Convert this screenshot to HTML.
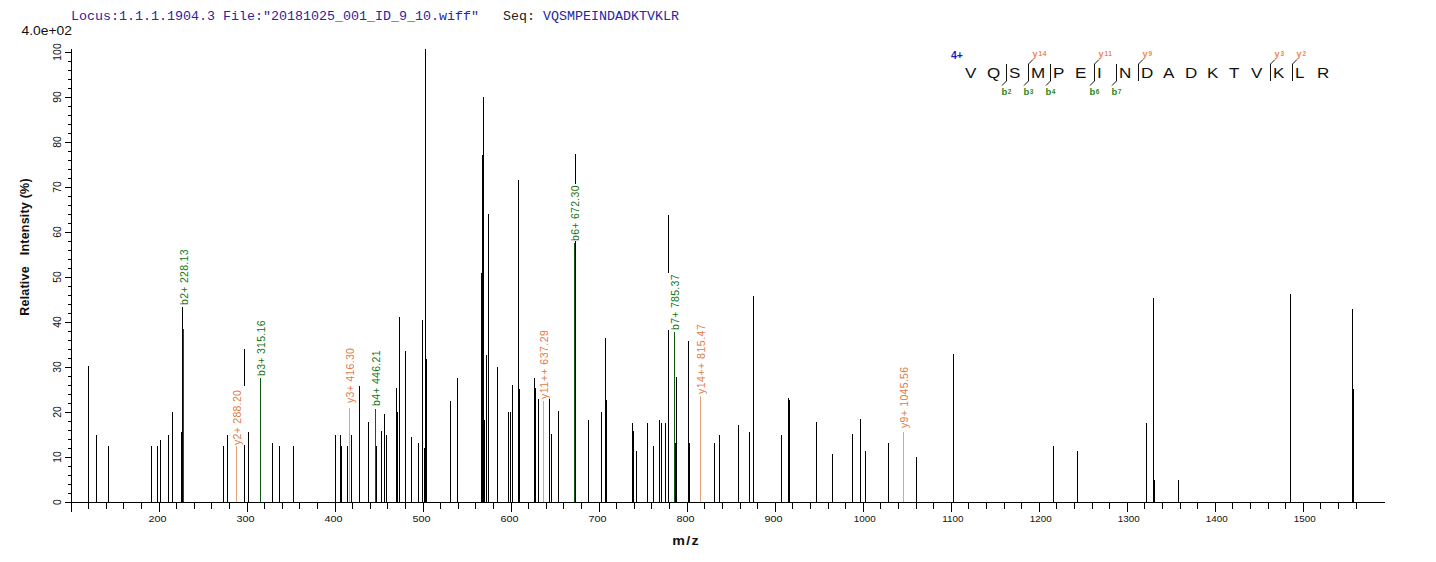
<!DOCTYPE html>
<html><head><meta charset="utf-8"><style>
html,body{margin:0;padding:0;background:#fff;width:1436px;height:562px;overflow:hidden}
svg{display:block}
text{font-family:"Liberation Sans",sans-serif}
.title{font-family:"Liberation Mono",monospace;font-size:13.33px;fill:#2626a4}
.tk{font-size:10px;fill:#111}
.lab{font-size:10.5px;letter-spacing:0.3px}
.aa{font-size:15.5px;fill:#111}
.ion{font-size:9px;font-weight:bold}
.sup{font-size:6.5px}
.axl{font-weight:bold;fill:#111}
</style></head><body>
<svg width="1436" height="562" viewBox="0 0 1436 562" shape-rendering="crispEdges">
<rect x="0" y="0" width="1436" height="562" fill="#fff"/>
<text x="71" y="20" class="title" xml:space="preserve">Locus:1.1.1.1904.3 File:"20181025_001_ID_9_10.wiff"   <tspan fill="#222">Seq:</tspan> VQSMPEINDADKTVKLR</text>
<text transform="translate(21.5,34.7) scale(1.1,1)" x="0" y="0" style="font-size:12.6px;fill:#111">4.0e+02</text>
<g transform="translate(28.5,247) rotate(-90)"><text x="0" y="0" class="axl" text-anchor="middle" style="font-size:12.5px;letter-spacing:0.2px" xml:space="preserve">Relative   Intensity (%)</text></g>
<text transform="translate(686,545) scale(1.08,1)" x="0" y="0" class="axl" text-anchor="middle" style="font-size:13.2px;letter-spacing:1.2px">m/z</text>
<text x="951" y="58.8" style="font-size:10.5px;font-weight:bold;fill:#1a1acc">4+</text>
<g shape-rendering="geometricPrecision">
<rect x="88" y="366" width="1" height="136" fill="#000"/>
<rect x="96" y="435" width="1" height="67" fill="#000"/>
<rect x="108" y="446" width="1" height="56" fill="#000"/>
<rect x="151" y="446" width="1" height="56" fill="#000"/>
<rect x="157" y="446" width="1" height="56" fill="#000"/>
<rect x="160" y="440" width="1" height="62" fill="#000"/>
<rect x="168" y="435" width="1" height="67" fill="#000"/>
<rect x="172" y="412" width="1" height="90" fill="#000"/>
<rect x="181" y="432" width="1" height="70" fill="#000"/>
<rect x="182" y="307" width="1" height="195" fill="#000"/>
<rect x="183" y="329" width="1" height="173" fill="#125a12"/>
<rect x="223" y="446" width="1" height="56" fill="#000"/>
<rect x="227" y="435" width="1" height="67" fill="#000"/>
<rect x="236" y="446" width="1" height="56" fill="#e9a07a"/>
<rect x="244" y="349" width="1" height="153" fill="#000"/>
<rect x="248" y="432" width="1" height="70" fill="#000"/>
<rect x="272" y="443" width="1" height="59" fill="#000"/>
<rect x="279" y="446" width="1" height="56" fill="#000"/>
<rect x="293" y="446" width="1" height="56" fill="#000"/>
<rect x="260" y="378" width="1" height="124" fill="#125a12"/>
<rect x="335" y="435" width="1" height="67" fill="#000"/>
<rect x="340" y="435" width="1" height="67" fill="#000"/>
<rect x="341" y="446" width="1" height="56" fill="#000"/>
<rect x="347" y="446" width="1" height="56" fill="#000"/>
<rect x="349" y="408" width="1" height="94" fill="#e9a07a"/>
<rect x="351" y="435" width="1" height="67" fill="#000"/>
<rect x="359" y="386" width="1" height="116" fill="#000"/>
<rect x="368" y="422" width="1" height="80" fill="#000"/>
<rect x="375" y="409" width="1" height="93" fill="#125a12"/>
<rect x="376" y="446" width="1" height="56" fill="#000"/>
<rect x="381" y="431" width="1" height="71" fill="#000"/>
<rect x="384" y="414" width="1" height="88" fill="#000"/>
<rect x="386" y="435" width="1" height="67" fill="#000"/>
<rect x="396" y="388" width="1" height="114" fill="#000"/>
<rect x="397" y="412" width="1" height="90" fill="#000"/>
<rect x="399" y="317" width="1" height="185" fill="#000"/>
<rect x="405" y="351" width="1" height="151" fill="#000"/>
<rect x="411" y="437" width="1" height="65" fill="#000"/>
<rect x="418" y="443" width="1" height="59" fill="#000"/>
<rect x="422" y="320" width="1" height="182" fill="#000"/>
<rect x="424" y="448" width="1" height="54" fill="#000"/>
<rect x="425" y="49" width="1" height="453" fill="#000"/>
<rect x="426" y="359" width="1" height="143" fill="#000"/>
<rect x="450" y="401" width="1" height="101" fill="#000"/>
<rect x="457" y="378" width="1" height="124" fill="#000"/>
<rect x="481" y="273" width="1" height="229" fill="#000"/>
<rect x="482" y="155" width="1" height="347" fill="#000"/>
<rect x="483" y="97" width="1" height="405" fill="#000"/>
<rect x="484" y="420" width="1" height="82" fill="#000"/>
<rect x="486" y="355" width="1" height="147" fill="#000"/>
<rect x="488" y="214" width="1" height="288" fill="#000"/>
<rect x="497" y="367" width="1" height="135" fill="#000"/>
<rect x="508" y="412" width="1" height="90" fill="#000"/>
<rect x="510" y="412" width="1" height="90" fill="#000"/>
<rect x="512" y="385" width="1" height="117" fill="#000"/>
<rect x="518" y="180" width="1" height="322" fill="#000"/>
<rect x="519" y="389" width="1" height="113" fill="#000"/>
<rect x="534" y="378" width="1" height="124" fill="#000"/>
<rect x="535" y="388" width="1" height="114" fill="#000"/>
<rect x="538" y="399" width="1" height="103" fill="#000"/>
<rect x="543" y="401" width="1" height="101" fill="#e9a07a"/>
<rect x="549" y="399" width="1" height="103" fill="#000"/>
<rect x="551" y="434" width="1" height="68" fill="#000"/>
<rect x="558" y="411" width="1" height="91" fill="#000"/>
<rect x="575" y="154" width="1" height="348" fill="#000"/>
<rect x="574" y="243" width="1" height="259" fill="#125a12"/>
<rect x="588" y="420" width="1" height="82" fill="#000"/>
<rect x="601" y="412" width="1" height="90" fill="#000"/>
<rect x="605" y="338" width="1" height="164" fill="#000"/>
<rect x="606" y="400" width="1" height="102" fill="#000"/>
<rect x="632" y="423" width="1" height="79" fill="#000"/>
<rect x="633" y="431" width="1" height="71" fill="#000"/>
<rect x="636" y="451" width="1" height="51" fill="#000"/>
<rect x="647" y="423" width="1" height="79" fill="#000"/>
<rect x="653" y="446" width="1" height="56" fill="#000"/>
<rect x="659" y="420" width="1" height="82" fill="#000"/>
<rect x="661" y="423" width="1" height="79" fill="#000"/>
<rect x="665" y="423" width="1" height="79" fill="#000"/>
<rect x="668" y="215" width="1" height="287" fill="#000"/>
<rect x="674" y="332" width="1" height="170" fill="#125a12"/>
<rect x="675" y="443" width="1" height="59" fill="#000"/>
<rect x="676" y="377" width="1" height="125" fill="#000"/>
<rect x="688" y="341" width="1" height="161" fill="#000"/>
<rect x="689" y="443" width="1" height="59" fill="#000"/>
<rect x="700" y="396" width="1" height="106" fill="#e9a07a"/>
<rect x="714" y="443" width="1" height="59" fill="#000"/>
<rect x="719" y="435" width="1" height="67" fill="#000"/>
<rect x="738" y="425" width="1" height="77" fill="#000"/>
<rect x="749" y="432" width="1" height="70" fill="#000"/>
<rect x="753" y="296" width="1" height="206" fill="#000"/>
<rect x="781" y="435" width="1" height="67" fill="#000"/>
<rect x="788" y="398" width="1" height="104" fill="#000"/>
<rect x="789" y="400" width="1" height="102" fill="#000"/>
<rect x="816" y="422" width="1" height="80" fill="#000"/>
<rect x="832" y="454" width="1" height="48" fill="#000"/>
<rect x="852" y="434" width="1" height="68" fill="#000"/>
<rect x="860" y="419" width="1" height="83" fill="#000"/>
<rect x="865" y="451" width="1" height="51" fill="#000"/>
<rect x="888" y="443" width="1" height="59" fill="#000"/>
<rect x="903" y="432" width="1" height="70" fill="#e9a07a"/>
<rect x="916" y="457" width="1" height="45" fill="#000"/>
<rect x="953" y="354" width="1" height="148" fill="#000"/>
<rect x="1053" y="446" width="1" height="56" fill="#000"/>
<rect x="1077" y="451" width="1" height="51" fill="#000"/>
<rect x="1146" y="423" width="1" height="79" fill="#000"/>
<rect x="1153" y="298" width="1" height="204" fill="#000"/>
<rect x="1154" y="480" width="1" height="22" fill="#000"/>
<rect x="1178" y="480" width="1" height="22" fill="#000"/>
<rect x="1290" y="294" width="1" height="208" fill="#000"/>
<rect x="1352" y="309" width="1" height="193" fill="#000"/>
<rect x="1353" y="389" width="1" height="113" fill="#000"/>
<rect x="177" y="248" width="15" height="57" fill="#fff"/>
<g transform="translate(188,305) rotate(-90)"><text x="0" y="0" class="lab" fill="#137313">b2+ 228.13</text></g>
<rect x="230" y="386" width="15" height="59" fill="#fff"/>
<g transform="translate(241,445) rotate(-90)"><text x="0" y="0" class="lab" fill="#e27a44">y2+ 288.20</text></g>
<rect x="254" y="319" width="15" height="57" fill="#fff"/>
<g transform="translate(265,376) rotate(-90)"><text x="0" y="0" class="lab" fill="#137313">b3+ 315.16</text></g>
<rect x="343" y="346" width="15" height="57" fill="#fff"/>
<g transform="translate(354,403) rotate(-90)"><text x="0" y="0" class="lab" fill="#e27a44">y3+ 416.30</text></g>
<rect x="369" y="350" width="15" height="56" fill="#fff"/>
<g transform="translate(380,406) rotate(-90)"><text x="0" y="0" class="lab" fill="#137313">b4+ 446.21</text></g>
<rect x="537" y="328" width="15" height="71" fill="#fff"/>
<g transform="translate(548,399) rotate(-90)"><text x="0" y="0" class="lab" fill="#e27a44" style="letter-spacing:0.5px">y11++ 637.29</text></g>
<rect x="568" y="184" width="15" height="57" fill="#fff"/>
<g transform="translate(579,241) rotate(-90)"><text x="0" y="0" class="lab" fill="#137313">b6+ 672.30</text></g>
<rect x="668" y="273" width="15" height="57" fill="#fff"/>
<g transform="translate(679,330) rotate(-90)"><text x="0" y="0" class="lab" fill="#137313">b7+ 785.37</text></g>
<rect x="694" y="323" width="15" height="71" fill="#fff"/>
<g transform="translate(705,394) rotate(-90)"><text x="0" y="0" class="lab" fill="#e27a44" style="letter-spacing:0.5px">y14++ 815.47</text></g>
<rect x="897" y="364" width="15" height="64" fill="#fff"/>
<g transform="translate(908,428) rotate(-90)"><text x="0" y="0" class="lab" fill="#e27a44">y9+ 1045.56</text></g>
<rect x="71" y="49" width="1" height="454" fill="#000"/>
<rect x="71" y="502" width="1314" height="1" fill="#000"/>
<rect x="65" y="502" width="6" height="1" fill="#000"/>
<g transform="translate(61.3,502) rotate(-90)"><text x="0" y="0" class="tk" style="font-size:10.4px" text-anchor="middle">0</text></g>
<rect x="68" y="493" width="3" height="1" fill="#000"/>
<rect x="68" y="484" width="3" height="1" fill="#000"/>
<rect x="68" y="475" width="3" height="1" fill="#000"/>
<rect x="68" y="466" width="3" height="1" fill="#000"/>
<rect x="65" y="457" width="6" height="1" fill="#000"/>
<g transform="translate(61.3,457) rotate(-90)"><text x="0" y="0" class="tk" style="font-size:10.4px" text-anchor="middle">10</text></g>
<rect x="68" y="448" width="3" height="1" fill="#000"/>
<rect x="68" y="439" width="3" height="1" fill="#000"/>
<rect x="68" y="430" width="3" height="1" fill="#000"/>
<rect x="68" y="421" width="3" height="1" fill="#000"/>
<rect x="65" y="412" width="6" height="1" fill="#000"/>
<g transform="translate(61.3,412) rotate(-90)"><text x="0" y="0" class="tk" style="font-size:10.4px" text-anchor="middle">20</text></g>
<rect x="68" y="403" width="3" height="1" fill="#000"/>
<rect x="68" y="394" width="3" height="1" fill="#000"/>
<rect x="68" y="385" width="3" height="1" fill="#000"/>
<rect x="68" y="376" width="3" height="1" fill="#000"/>
<rect x="65" y="367" width="6" height="1" fill="#000"/>
<g transform="translate(61.3,367) rotate(-90)"><text x="0" y="0" class="tk" style="font-size:10.4px" text-anchor="middle">30</text></g>
<rect x="68" y="358" width="3" height="1" fill="#000"/>
<rect x="68" y="349" width="3" height="1" fill="#000"/>
<rect x="68" y="340" width="3" height="1" fill="#000"/>
<rect x="68" y="331" width="3" height="1" fill="#000"/>
<rect x="65" y="322" width="6" height="1" fill="#000"/>
<g transform="translate(61.3,322) rotate(-90)"><text x="0" y="0" class="tk" style="font-size:10.4px" text-anchor="middle">40</text></g>
<rect x="68" y="313" width="3" height="1" fill="#000"/>
<rect x="68" y="304" width="3" height="1" fill="#000"/>
<rect x="68" y="295" width="3" height="1" fill="#000"/>
<rect x="68" y="286" width="3" height="1" fill="#000"/>
<rect x="65" y="277" width="6" height="1" fill="#000"/>
<g transform="translate(61.3,277) rotate(-90)"><text x="0" y="0" class="tk" style="font-size:10.4px" text-anchor="middle">50</text></g>
<rect x="68" y="268" width="3" height="1" fill="#000"/>
<rect x="68" y="259" width="3" height="1" fill="#000"/>
<rect x="68" y="250" width="3" height="1" fill="#000"/>
<rect x="68" y="241" width="3" height="1" fill="#000"/>
<rect x="65" y="232" width="6" height="1" fill="#000"/>
<g transform="translate(61.3,232) rotate(-90)"><text x="0" y="0" class="tk" style="font-size:10.4px" text-anchor="middle">60</text></g>
<rect x="68" y="223" width="3" height="1" fill="#000"/>
<rect x="68" y="214" width="3" height="1" fill="#000"/>
<rect x="68" y="205" width="3" height="1" fill="#000"/>
<rect x="68" y="196" width="3" height="1" fill="#000"/>
<rect x="65" y="187" width="6" height="1" fill="#000"/>
<g transform="translate(61.3,187) rotate(-90)"><text x="0" y="0" class="tk" style="font-size:10.4px" text-anchor="middle">70</text></g>
<rect x="68" y="178" width="3" height="1" fill="#000"/>
<rect x="68" y="169" width="3" height="1" fill="#000"/>
<rect x="68" y="160" width="3" height="1" fill="#000"/>
<rect x="68" y="151" width="3" height="1" fill="#000"/>
<rect x="65" y="142" width="6" height="1" fill="#000"/>
<g transform="translate(61.3,142) rotate(-90)"><text x="0" y="0" class="tk" style="font-size:10.4px" text-anchor="middle">80</text></g>
<rect x="68" y="133" width="3" height="1" fill="#000"/>
<rect x="68" y="124" width="3" height="1" fill="#000"/>
<rect x="68" y="115" width="3" height="1" fill="#000"/>
<rect x="68" y="106" width="3" height="1" fill="#000"/>
<rect x="65" y="97" width="6" height="1" fill="#000"/>
<g transform="translate(61.3,97) rotate(-90)"><text x="0" y="0" class="tk" style="font-size:10.4px" text-anchor="middle">90</text></g>
<rect x="68" y="88" width="3" height="1" fill="#000"/>
<rect x="68" y="79" width="3" height="1" fill="#000"/>
<rect x="68" y="70" width="3" height="1" fill="#000"/>
<rect x="68" y="61" width="3" height="1" fill="#000"/>
<rect x="65" y="52" width="6" height="1" fill="#000"/>
<g transform="translate(61.3,52) rotate(-90)"><text x="0" y="0" class="tk" style="font-size:10.4px" text-anchor="middle">100</text></g>
<rect x="71" y="502" width="1" height="10" fill="#000"/>
<rect x="88" y="502" width="1" height="7" fill="#000"/>
<rect x="106" y="502" width="1" height="7" fill="#000"/>
<rect x="123" y="502" width="1" height="7" fill="#000"/>
<rect x="141" y="502" width="1" height="7" fill="#000"/>
<rect x="159" y="502" width="1" height="10" fill="#000"/>
<text transform="translate(157.5,522) scale(1.1,1)" x="0" y="0" class="tk" style="font-size:9.8px" text-anchor="middle">200</text>
<rect x="176" y="502" width="1" height="7" fill="#000"/>
<rect x="194" y="502" width="1" height="7" fill="#000"/>
<rect x="211" y="502" width="1" height="7" fill="#000"/>
<rect x="229" y="502" width="1" height="7" fill="#000"/>
<rect x="247" y="502" width="1" height="10" fill="#000"/>
<text transform="translate(245.5,522) scale(1.1,1)" x="0" y="0" class="tk" style="font-size:9.8px" text-anchor="middle">300</text>
<rect x="264" y="502" width="1" height="7" fill="#000"/>
<rect x="282" y="502" width="1" height="7" fill="#000"/>
<rect x="299" y="502" width="1" height="7" fill="#000"/>
<rect x="317" y="502" width="1" height="7" fill="#000"/>
<rect x="335" y="502" width="1" height="10" fill="#000"/>
<text transform="translate(333.5,522) scale(1.1,1)" x="0" y="0" class="tk" style="font-size:9.8px" text-anchor="middle">400</text>
<rect x="352" y="502" width="1" height="7" fill="#000"/>
<rect x="370" y="502" width="1" height="7" fill="#000"/>
<rect x="387" y="502" width="1" height="7" fill="#000"/>
<rect x="405" y="502" width="1" height="7" fill="#000"/>
<rect x="423" y="502" width="1" height="10" fill="#000"/>
<text transform="translate(421.5,522) scale(1.1,1)" x="0" y="0" class="tk" style="font-size:9.8px" text-anchor="middle">500</text>
<rect x="440" y="502" width="1" height="7" fill="#000"/>
<rect x="458" y="502" width="1" height="7" fill="#000"/>
<rect x="475" y="502" width="1" height="7" fill="#000"/>
<rect x="493" y="502" width="1" height="7" fill="#000"/>
<rect x="511" y="502" width="1" height="10" fill="#000"/>
<text transform="translate(509.5,522) scale(1.1,1)" x="0" y="0" class="tk" style="font-size:9.8px" text-anchor="middle">600</text>
<rect x="528" y="502" width="1" height="7" fill="#000"/>
<rect x="546" y="502" width="1" height="7" fill="#000"/>
<rect x="563" y="502" width="1" height="7" fill="#000"/>
<rect x="581" y="502" width="1" height="7" fill="#000"/>
<rect x="599" y="502" width="1" height="10" fill="#000"/>
<text transform="translate(597.5,522) scale(1.1,1)" x="0" y="0" class="tk" style="font-size:9.8px" text-anchor="middle">700</text>
<rect x="616" y="502" width="1" height="7" fill="#000"/>
<rect x="634" y="502" width="1" height="7" fill="#000"/>
<rect x="651" y="502" width="1" height="7" fill="#000"/>
<rect x="669" y="502" width="1" height="7" fill="#000"/>
<rect x="687" y="502" width="1" height="10" fill="#000"/>
<text transform="translate(685.5,522) scale(1.1,1)" x="0" y="0" class="tk" style="font-size:9.8px" text-anchor="middle">800</text>
<rect x="704" y="502" width="1" height="7" fill="#000"/>
<rect x="722" y="502" width="1" height="7" fill="#000"/>
<rect x="740" y="502" width="1" height="7" fill="#000"/>
<rect x="757" y="502" width="1" height="7" fill="#000"/>
<rect x="775" y="502" width="1" height="10" fill="#000"/>
<text transform="translate(773.5,522) scale(1.1,1)" x="0" y="0" class="tk" style="font-size:9.8px" text-anchor="middle">900</text>
<rect x="792" y="502" width="1" height="7" fill="#000"/>
<rect x="810" y="502" width="1" height="7" fill="#000"/>
<rect x="828" y="502" width="1" height="7" fill="#000"/>
<rect x="845" y="502" width="1" height="7" fill="#000"/>
<rect x="863" y="502" width="1" height="10" fill="#000"/>
<text transform="translate(864.8,522) scale(1.03,1)" x="0" y="0" class="tk" style="font-size:9.6px" text-anchor="middle">1000</text>
<rect x="880" y="502" width="1" height="7" fill="#000"/>
<rect x="898" y="502" width="1" height="7" fill="#000"/>
<rect x="916" y="502" width="1" height="7" fill="#000"/>
<rect x="933" y="502" width="1" height="7" fill="#000"/>
<rect x="951" y="502" width="1" height="10" fill="#000"/>
<text transform="translate(952.8,522) scale(1.03,1)" x="0" y="0" class="tk" style="font-size:9.6px" text-anchor="middle">1100</text>
<rect x="968" y="502" width="1" height="7" fill="#000"/>
<rect x="986" y="502" width="1" height="7" fill="#000"/>
<rect x="1004" y="502" width="1" height="7" fill="#000"/>
<rect x="1021" y="502" width="1" height="7" fill="#000"/>
<rect x="1039" y="502" width="1" height="10" fill="#000"/>
<text transform="translate(1040.8,522) scale(1.03,1)" x="0" y="0" class="tk" style="font-size:9.6px" text-anchor="middle">1200</text>
<rect x="1056" y="502" width="1" height="7" fill="#000"/>
<rect x="1074" y="502" width="1" height="7" fill="#000"/>
<rect x="1092" y="502" width="1" height="7" fill="#000"/>
<rect x="1109" y="502" width="1" height="7" fill="#000"/>
<rect x="1127" y="502" width="1" height="10" fill="#000"/>
<text transform="translate(1128.8,522) scale(1.03,1)" x="0" y="0" class="tk" style="font-size:9.6px" text-anchor="middle">1300</text>
<rect x="1144" y="502" width="1" height="7" fill="#000"/>
<rect x="1162" y="502" width="1" height="7" fill="#000"/>
<rect x="1180" y="502" width="1" height="7" fill="#000"/>
<rect x="1197" y="502" width="1" height="7" fill="#000"/>
<rect x="1215" y="502" width="1" height="10" fill="#000"/>
<text transform="translate(1216.8,522) scale(1.03,1)" x="0" y="0" class="tk" style="font-size:9.6px" text-anchor="middle">1400</text>
<rect x="1232" y="502" width="1" height="7" fill="#000"/>
<rect x="1250" y="502" width="1" height="7" fill="#000"/>
<rect x="1268" y="502" width="1" height="7" fill="#000"/>
<rect x="1285" y="502" width="1" height="7" fill="#000"/>
<rect x="1303" y="502" width="1" height="10" fill="#000"/>
<text transform="translate(1304.8,522) scale(1.03,1)" x="0" y="0" class="tk" style="font-size:9.6px" text-anchor="middle">1500</text>
<rect x="1320" y="502" width="1" height="7" fill="#000"/>
<rect x="1338" y="502" width="1" height="7" fill="#000"/>
<rect x="1356" y="502" width="1" height="7" fill="#000"/>
<text transform="translate(964.9,78) scale(1.1,1)" x="0" y="0" class="aa">V</text>
<text transform="translate(986.9,78) scale(1.1,1)" x="0" y="0" class="aa">Q</text>
<text transform="translate(1008.9,78) scale(1.1,1)" x="0" y="0" class="aa">S</text>
<text transform="translate(1030.9,78) scale(1.1,1)" x="0" y="0" class="aa">M</text>
<text transform="translate(1052.9,78) scale(1.1,1)" x="0" y="0" class="aa">P</text>
<text transform="translate(1074.9,78) scale(1.1,1)" x="0" y="0" class="aa">E</text>
<text transform="translate(1096.9,78) scale(1.1,1)" x="0" y="0" class="aa">I</text>
<text transform="translate(1118.9,78) scale(1.1,1)" x="0" y="0" class="aa">N</text>
<text transform="translate(1140.9,78) scale(1.1,1)" x="0" y="0" class="aa">D</text>
<text transform="translate(1162.9,78) scale(1.1,1)" x="0" y="0" class="aa">A</text>
<text transform="translate(1184.9,78) scale(1.1,1)" x="0" y="0" class="aa">D</text>
<text transform="translate(1206.9,78) scale(1.1,1)" x="0" y="0" class="aa">K</text>
<text transform="translate(1228.9,78) scale(1.1,1)" x="0" y="0" class="aa">T</text>
<text transform="translate(1250.9,78) scale(1.1,1)" x="0" y="0" class="aa">V</text>
<text transform="translate(1272.9,78) scale(1.1,1)" x="0" y="0" class="aa">K</text>
<text transform="translate(1294.9,78) scale(1.1,1)" x="0" y="0" class="aa">L</text>
<text transform="translate(1316.9,78) scale(1.1,1)" x="0" y="0" class="aa">R</text>
<polyline points="1006.5,64 1006.5,81 1002.0,85.5" fill="none" stroke="#111" stroke-width="1"/>
<text x="1001.5" y="95" class="ion" fill="#1f8a1f" style="font-size:9.5px">b<tspan class="sup" dx="0.5" dy="-1">2</tspan></text>
<polyline points="1033.0,59.5 1028.5,64 1028.5,81 1024.0,85.5" fill="none" stroke="#111" stroke-width="1"/>
<text x="1032.5" y="57" class="ion" fill="#ec8554">y<tspan class="sup" dx="1" dy="-1.5" style="letter-spacing:0.6px">14</tspan></text>
<text x="1023.5" y="95" class="ion" fill="#1f8a1f" style="font-size:9.5px">b<tspan class="sup" dx="0.5" dy="-1">3</tspan></text>
<polyline points="1050.5,64 1050.5,81 1046.0,85.5" fill="none" stroke="#111" stroke-width="1"/>
<text x="1045.5" y="95" class="ion" fill="#1f8a1f" style="font-size:9.5px">b<tspan class="sup" dx="0.5" dy="-1">4</tspan></text>
<polyline points="1099.0,59.5 1094.5,64 1094.5,81 1090.0,85.5" fill="none" stroke="#111" stroke-width="1"/>
<text x="1098.5" y="57" class="ion" fill="#ec8554">y<tspan class="sup" dx="1" dy="-1.5" style="letter-spacing:0.6px">11</tspan></text>
<text x="1089.5" y="95" class="ion" fill="#1f8a1f" style="font-size:9.5px">b<tspan class="sup" dx="0.5" dy="-1">6</tspan></text>
<polyline points="1116.5,64 1116.5,81 1112.0,85.5" fill="none" stroke="#111" stroke-width="1"/>
<text x="1111.5" y="95" class="ion" fill="#1f8a1f" style="font-size:9.5px">b<tspan class="sup" dx="0.5" dy="-1">7</tspan></text>
<polyline points="1143.0,59.5 1138.5,64 1138.5,81" fill="none" stroke="#111" stroke-width="1"/>
<text x="1142.5" y="57" class="ion" fill="#ec8554">y<tspan class="sup" dx="1" dy="-1.5" style="letter-spacing:0.6px">9</tspan></text>
<polyline points="1275.0,59.5 1270.5,64 1270.5,81" fill="none" stroke="#111" stroke-width="1"/>
<text x="1274.5" y="57" class="ion" fill="#ec8554">y<tspan class="sup" dx="1" dy="-1.5" style="letter-spacing:0.6px">3</tspan></text>
<polyline points="1297.0,59.5 1292.5,64 1292.5,81" fill="none" stroke="#111" stroke-width="1"/>
<text x="1296.5" y="57" class="ion" fill="#ec8554">y<tspan class="sup" dx="1" dy="-1.5" style="letter-spacing:0.6px">2</tspan></text>
</g>
</svg>
</body></html>
